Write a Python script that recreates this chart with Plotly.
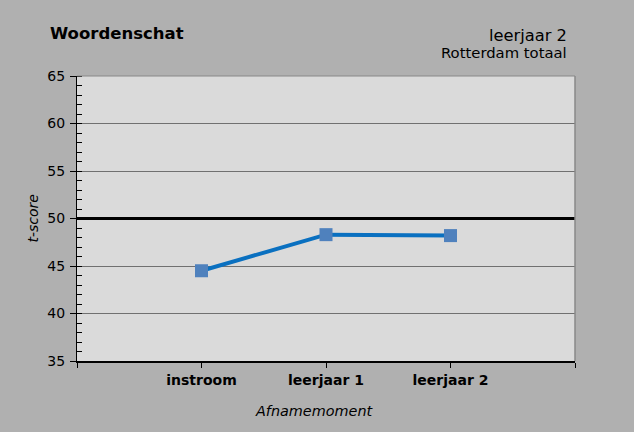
import plotly.graph_objects as go

categories = ["instroom", "leerjaar 1", "leerjaar 2"]
t_scores = [44.5, 48.3, 48.2]
reference_value = 50
y_ticks = [35, 40, 45, 50, 55, 60, 65]

x_pos = [1, 2, 3]

fig = go.Figure()
fig.add_trace(go.Scatter(
    x=x_pos, y=t_scores, mode="lines+markers",
    line=dict(color="#0a70c0", width=4),
    marker=dict(symbol="square", size=13, color="#4f81bd", line=dict(width=0)),
    showlegend=False, cliponaxis=False,
))

font_family = "DejaVu Sans, Verdana, sans-serif"

fig.update_layout(
    width=634, height=432,
    margin=dict(l=77, r=59, t=76, b=71),
    paper_bgcolor="#b0b0b0",
    plot_bgcolor="#dadada",
    font=dict(family=font_family, color="#000000", size=12),
    xaxis=dict(
        range=[0, 4], tickvals=[0, 1, 2, 3, 4],
        ticktext=[""] + ["<b>%s</b>" % c for c in categories] + [""],
        ticks="outside", ticklen=5, tickcolor="#000000",
        showline=True, linecolor="#000000", linewidth=1.5,
        showgrid=False, zeroline=False,
        tickfont=dict(size=14, family=font_family),
    ),
    yaxis=dict(
        range=[35, 65], tickvals=y_ticks,
        ticks="outside", ticklen=6, tickcolor="#000000",
        showline=True, linecolor="#000000", linewidth=1.2,
        showgrid=True, gridcolor="#707070", gridwidth=1,
        zeroline=False,
        minor=dict(dtick=1, ticks="inside", ticklen=5, tickcolor="#000000", showgrid=False),
        tickfont=dict(size=14, family=font_family),
        ticklabelstandoff=2,
    ),
    shapes=[
        dict(type="line", xref="paper", yref="y", x0=0, x1=1, y0=reference_value, y1=reference_value,
             line=dict(color="#000000", width=3)),
        dict(type="line", xref="paper", yref="paper", x0=0, x1=1, y0=1, y1=1,
             line=dict(color="#888888", width=1)),
        dict(type="line", xref="paper", yref="paper", x0=1, x1=1, y0=0, y1=1,
             line=dict(color="#888888", width=1.5)),
    ],
    annotations=[
        dict(text="<b>Woordenschat</b>", xref="paper", yref="paper", x=-0.058, y=1.0,
             xanchor="left", yanchor="bottom", yshift=31, showarrow=False,
             font=dict(size=16.5, family=font_family)),
        dict(text="leerjaar 2", xref="paper", yref="paper", x=0.987, y=1.0,
             xanchor="right", yanchor="bottom", yshift=29, showarrow=False,
             font=dict(size=16.3, family=font_family)),
        dict(text="Rotterdam totaal", xref="paper", yref="paper", x=0.987, y=1.0,
             xanchor="right", yanchor="bottom", yshift=13, showarrow=False,
             font=dict(size=14.8, family=font_family)),
        dict(text="<i>t-score</i>", xref="paper", yref="paper", x=0, y=0.5,
             xshift=-55, textangle=-90, showarrow=False,
             font=dict(size=14, family=font_family)),
        dict(text="<i>Afnamemoment</i>", xref="paper", yref="paper", x=0.476, y=0,
             yshift=-60, showarrow=False,
             font=dict(size=14.4, family=font_family)),
    ],
)

fig.write_html("out.html")
